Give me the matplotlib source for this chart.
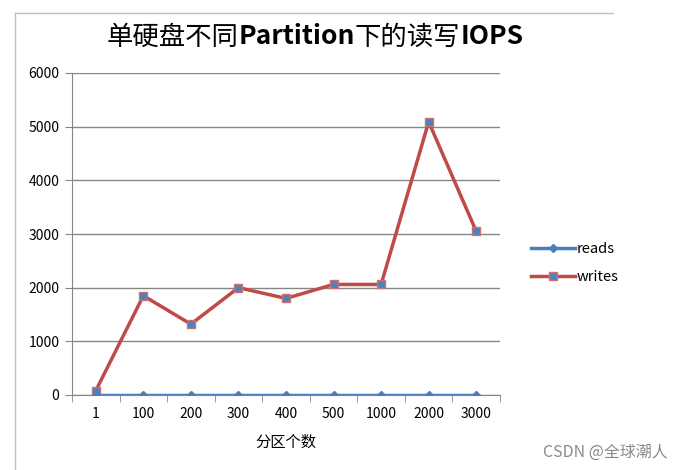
import matplotlib.pyplot as plt
from matplotlib.lines import Line2D

plt.rcParams['font.family'] = ['Noto Sans CJK SC', 'DejaVu Sans']

# ===== datos =====
categories = ["1", "100", "200", "300", "400", "500", "1000", "2000", "3000"]
reads = [0, 0, 0, 0, 0, 0, 0, 0, 0]
writes = [80, 1850, 1320, 2000, 1800, 2060, 2060, 5090, 3050]
y_ticks = [0, 1000, 2000, 3000, 4000, 5000, 6000]
title_parts = [("单硬盘不同", "normal"), ("Partition", "bold"),
               ("下的读写", "normal"), ("IOPS", "bold")]

W, H = 683, 470
fig = plt.figure(figsize=(W / 100, H / 100), dpi=100)
ax = fig.add_axes([72 / W, 1 - 395 / H, 428 / W, 322 / H])

# marco del gráfico (solo arriba e izquierda)
frame = dict(transform=fig.transFigure, color="#bfbfbf", linewidth=1)
fig.add_artist(Line2D([15 / W, 613 / W], [1 - 13 / H, 1 - 13 / H], **frame))
fig.add_artist(Line2D([15 / W, 15 / W], [0, 1 - 13 / H], **frame))

x = range(len(categories))
ax.plot(x, reads, color="#4A7EBB", linewidth=2.5, marker="D", markersize=4,
        markerfacecolor="#4A7EBB", markeredgecolor="#4A7EBB", label="reads", zorder=4)
ax.plot(x, writes, color="#BE4B48", linewidth=2.5, marker="s", markersize=6,
        markerfacecolor="#4F81BD", markeredgecolor="#D0706D", label="writes", zorder=3)

ax.set_xlim(-0.5, len(categories) - 0.5)
ax.set_ylim(0, 6000)
ax.set_yticks(y_ticks)
ax.set_xticks(list(x))
ax.set_xticklabels(categories, fontsize=10)
ax.set_xticks([i - 0.5 for i in range(len(categories) + 1)], minor=True)
ax.tick_params(axis="x", which="major", length=0, pad=9)
ax.tick_params(axis="x", which="minor", length=5, color="#868686", direction="out")
ax.tick_params(axis="y", length=5, color="#868686", labelsize=10, pad=4)
ax.grid(axis="y", color="#868686", linewidth=1)
ax.set_axisbelow(True)

for s in ["top", "right"]:
    ax.spines[s].set_visible(False)
for s in ["left", "bottom"]:
    ax.spines[s].set_color("#868686")

ax.set_xlabel("分区个数", fontsize=11, labelpad=9)

# título con partes en negrita
renderer = fig.canvas.get_renderer()
texts = []
for s, w in title_parts:
    t = fig.text(0, 1 - 37 / H, s, fontsize=19, fontweight=w, va="center", ha="left")
    texts.append(t)
widths = [t.get_window_extent(renderer).width for t in texts]
x0 = 315 - sum(widths) / 2
for t, w in zip(texts, widths):
    t.set_x(x0 / W)
    x0 += w

fig.legend(loc="center left", bbox_to_anchor=(518 / W, 1 - 263 / H),
           frameon=False, fontsize=10.5, handlelength=3, labelspacing=1.0,
           handletextpad=0.1)

fig.text(0.977, 1 - 452 / H, "CSDN @全球潮人", ha="right", va="center",
         fontsize=11.5, color="#8a8a8a")

fig.savefig("out.png", dpi=100)
